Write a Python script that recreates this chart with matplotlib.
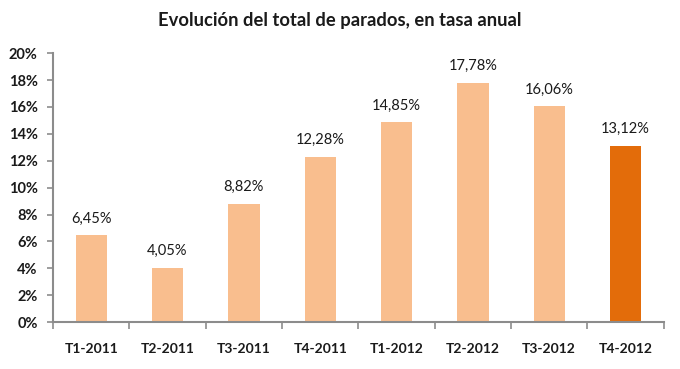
import matplotlib
matplotlib.use("Agg")
import matplotlib.pyplot as plt
from matplotlib.ticker import FixedLocator, NullFormatter, FuncFormatter

categories = ["T1-2011", "T2-2011", "T3-2011", "T4-2011", "T1-2012", "T2-2012", "T3-2012", "T4-2012"]
values = [6.45, 4.05, 8.82, 12.28, 14.85, 17.78, 16.06, 13.12]
value_labels = ["6,45%", "4,05%", "8,82%", "12,28%", "14,85%", "17,78%", "16,06%", "13,12%"]
y_ticks = [0, 2, 4, 6, 8, 10, 12, 14, 16, 18, 20]
title = "Evolución del total de parados, en tasa anual"

plt.rcParams['font.family'] = ['Lato', 'DejaVu Sans']

fig = plt.figure(figsize=(6.8, 3.69), dpi=100)
ax = fig.add_axes([0.078, 0.127, 0.898, 0.729])

colors = ["#F9BE8E"] * (len(values) - 1) + ["#E36C0A"]
x = list(range(len(categories)))
ax.bar(x, values, width=0.41, color=colors, zorder=2)

for xi, v, lab in zip(x, values, value_labels):
    ax.annotate(lab, (xi, v), xytext=(0, 7), textcoords="offset points",
                ha="center", va="bottom", fontsize=10.5, color="#1a1a1a")

ax.set_xlim(-0.5, len(categories) - 0.5)
ax.set_ylim(0, 20)
ax.set_yticks(y_ticks)
ax.yaxis.set_major_formatter(FuncFormatter(lambda v, p: f"{int(v)}%"))

ax.xaxis.set_major_locator(FixedLocator([i - 0.5 for i in range(len(categories) + 1)]))
ax.xaxis.set_major_formatter(NullFormatter())
ax.xaxis.set_minor_locator(FixedLocator(x))
ax.set_xticklabels(categories, minor=True)

for s in ["top", "right"]:
    ax.spines[s].set_visible(False)
for s in ["left", "bottom"]:
    ax.spines[s].set_color("#8c8c8c")
    ax.spines[s].set_linewidth(1.5)

ax.tick_params(axis="y", which="major", length=4, width=1.2, color="#8c8c8c",
               labelsize=10.5, labelcolor="#1a1a1a", pad=7)
ax.tick_params(axis="x", which="major", length=5, width=1.2, color="#8c8c8c")
ax.tick_params(axis="x", which="minor", length=0, labelsize=10, labelcolor="#1a1a1a", pad=15)
for lab in ax.get_yticklabels() + ax.get_xticklabels(minor=True):
    lab.set_fontweight("bold")

fig.text(0.5, 0.945, title, ha="center", va="center", fontsize=13.2, fontweight="bold", color="#1a1a1a")

fig.savefig("out.png", dpi=100, facecolor="white")
